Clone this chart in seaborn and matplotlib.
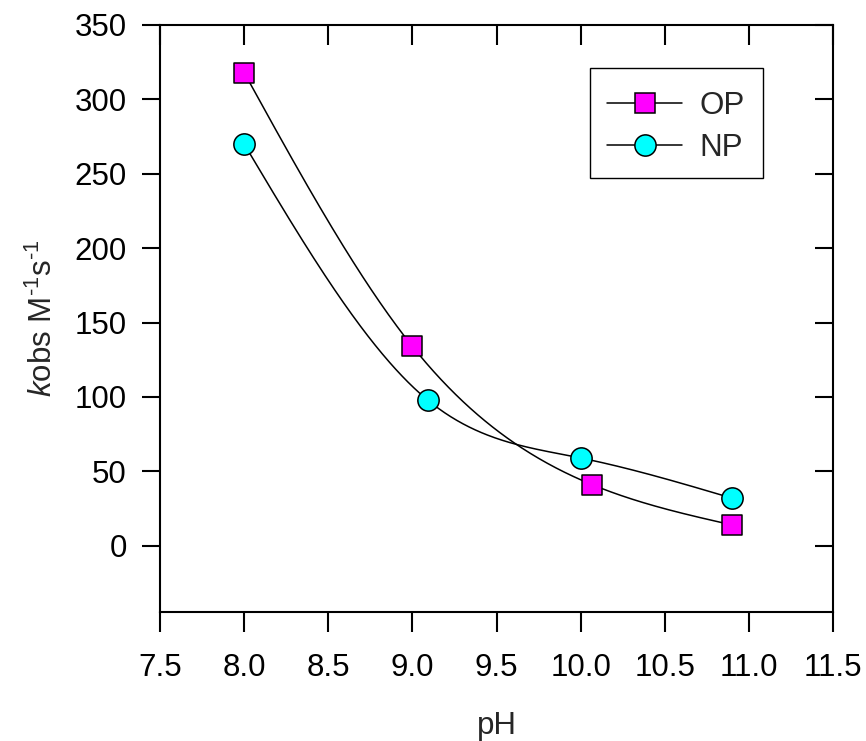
import numpy as np
import matplotlib
matplotlib.use("Agg")
import matplotlib.pyplot as plt
from matplotlib.lines import Line2D
from matplotlib.patches import Rectangle
import seaborn as sns

# Measured rate constants versus pH
ph_op = [8.0, 9.0, 10.07, 10.9]
k_op = [318, 134, 41, 14]
ph_np = [8.0, 9.09, 10.0, 10.9]
k_np = [270, 98, 59, 32]
series_names = ["OP", "NP"]
x_ticks = [7.5, 8.0, 8.5, 9.0, 9.5, 10.0, 10.5, 11.0, 11.5]
y_ticks = [0, 50, 100, 150, 200, 250, 300, 350]


def natural_spline(x, y, n=400):
    """Natural cubic spline through the data points."""
    x = np.asarray(x, float)
    y = np.asarray(y, float)
    m = len(x)
    h = np.diff(x)
    A = np.zeros((m, m))
    b = np.zeros(m)
    A[0, 0] = A[-1, -1] = 1.0
    for i in range(1, m - 1):
        A[i, i - 1] = h[i - 1]
        A[i, i] = 2 * (h[i - 1] + h[i])
        A[i, i + 1] = h[i]
        b[i] = 6 * ((y[i + 1] - y[i]) / h[i] - (y[i] - y[i - 1]) / h[i - 1])
    M = np.linalg.solve(A, b)
    xs = np.linspace(x[0], x[-1], n)
    idx = np.clip(np.searchsorted(x, xs) - 1, 0, m - 2)
    x0, x1 = x[idx], x[idx + 1]
    hh = x1 - x0
    ys = (M[idx] * (x1 - xs) ** 3 / (6 * hh) + M[idx + 1] * (xs - x0) ** 3 / (6 * hh)
          + (y[idx] / hh - M[idx] * hh / 6) * (x1 - xs)
          + (y[idx + 1] / hh - M[idx + 1] * hh / 6) * (xs - x0))
    return xs, ys


sns.set_style("ticks")
plt.rcParams["font.family"] = ["Liberation Sans", "DejaVu Sans"]
plt.rcParams["mathtext.fontset"] = "custom"
plt.rcParams["mathtext.rm"] = "Liberation Sans"
plt.rcParams["mathtext.it"] = "Liberation Sans:italic"

fs = 22.5
fig = plt.figure(figsize=(8.66, 7.41), dpi=100)
ax = fig.add_axes([0.1848, 0.1741, 0.7771, 0.7922])

xs, ys = natural_spline(ph_op, k_op)
sns.lineplot(x=xs, y=ys, ax=ax, color="black", lw=1.1, estimator=None, sort=False)
xs, ys = natural_spline(ph_np, k_np)
sns.lineplot(x=xs, y=ys, ax=ax, color="black", lw=1.1, estimator=None, sort=False)

sns.scatterplot(x=ph_op, y=k_op, ax=ax, marker="s", s=190, color="#ff00ff",
                edgecolor="black", linewidth=1.1, zorder=5)
sns.scatterplot(x=ph_np, y=k_np, ax=ax, marker="o", s=235, color="#00ffff",
                edgecolor="black", linewidth=1.1, zorder=5)

ax.set_xlim(7.5, 11.5)
ax.set_ylim(-44.5, 350)
ax.set_xticks(x_ticks)
ax.set_xticklabels([f"{t:.1f}" for t in x_ticks])
ax.set_yticks(y_ticks)
ax.set_yticklabels([str(t) for t in y_ticks])

for s in ax.spines.values():
    s.set_visible(True)
    s.set_linewidth(1.5)
    s.set_color("black")

ax.tick_params(axis="both", which="both", width=1.5, color="black",
               labelsize=fs, labelcolor="black")
ax.tick_params(axis="x", bottom=True, top=True, length=14.5, pad=15)
ax.tick_params(axis="y", left=True, right=True, length=13, pad=11)
# inward ticks on top and right edges
for t in ax.xaxis.get_major_ticks():
    t.tick2line.set_marker(3)
    t.tick2line.set_markersize(14.5)
for t in ax.yaxis.get_major_ticks():
    t.tick2line.set_marker(0)
    t.tick2line.set_markersize(13)

ax.set_xlabel("pH", fontsize=fs, labelpad=20)
ax.set_ylabel(r"$\mathit{k}$obs M$^{\text{-1}}$s$^{\text{-1}}$", fontsize=fs, labelpad=11)

handles = [
    Line2D([], [], color="black", lw=1.1, marker="s", markersize=13.7,
           markerfacecolor="#ff00ff", markeredgecolor="black", markeredgewidth=1.1),
    Line2D([], [], color="black", lw=1.1, marker="o", markersize=15.3,
           markerfacecolor="#00ffff", markeredgecolor="black", markeredgewidth=1.1),
]
ax.legend(handles, series_names, loc="upper left", bbox_to_anchor=(0.6642, 0.8876),
          borderaxespad=0, borderpad=0, fontsize=fs, frameon=False,
          handlelength=2.4, handletextpad=0.55, labelspacing=0.37)
ax.add_patch(Rectangle((0.6389, 0.7394), 0.2571, 0.1874, transform=ax.transAxes,
                       fill=False, edgecolor="black", lw=1.0, zorder=6))

fig.savefig("out.png", dpi=100)
